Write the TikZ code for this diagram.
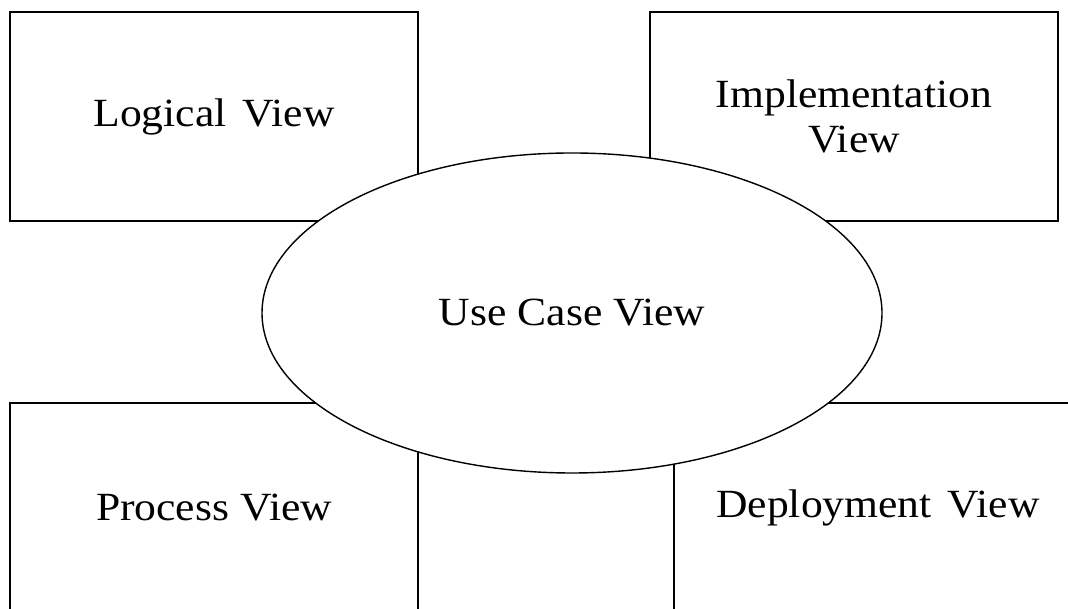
\documentclass[tikz,border=0pt]{standalone}
\usepackage{fontspec}
\setmainfont[FakeStretch=1.09]{Liberation Serif}
\usetikzlibrary{shapes.geometric}
\begin{document}
\begin{tikzpicture}[x=1pt,y=1pt,
  viewbox/.style={draw=black, line width=1.6pt, fill=white, rectangle, minimum width=408pt, minimum height=209pt, inner sep=0pt, anchor=center, font=\fontsize{40}{45}\selectfont, align=center},
  usecase/.style={draw=black, line width=1.4pt, fill=white, ellipse, minimum width=620pt, minimum height=320pt, inner sep=0pt, font=\fontsize{40}{45}\selectfont}]
\clip (0,0) rectangle (1068,609);
\fill[white] (0,0) rectangle (1068,609);
\node[viewbox] (logical) at (214,492.5) {Logical\hspace{16pt}View};
\node[viewbox] (impl) at (854,492.5) {Implementation\\View};
\node[viewbox] (process) at (214,101.5) {Process View};
\node[viewbox] (deploy) at (878,101.5) {Deployment\hspace{16pt}View};
\node[usecase] (usecase) at (572,296) {Use Case View};
\end{tikzpicture}
\end{document}
